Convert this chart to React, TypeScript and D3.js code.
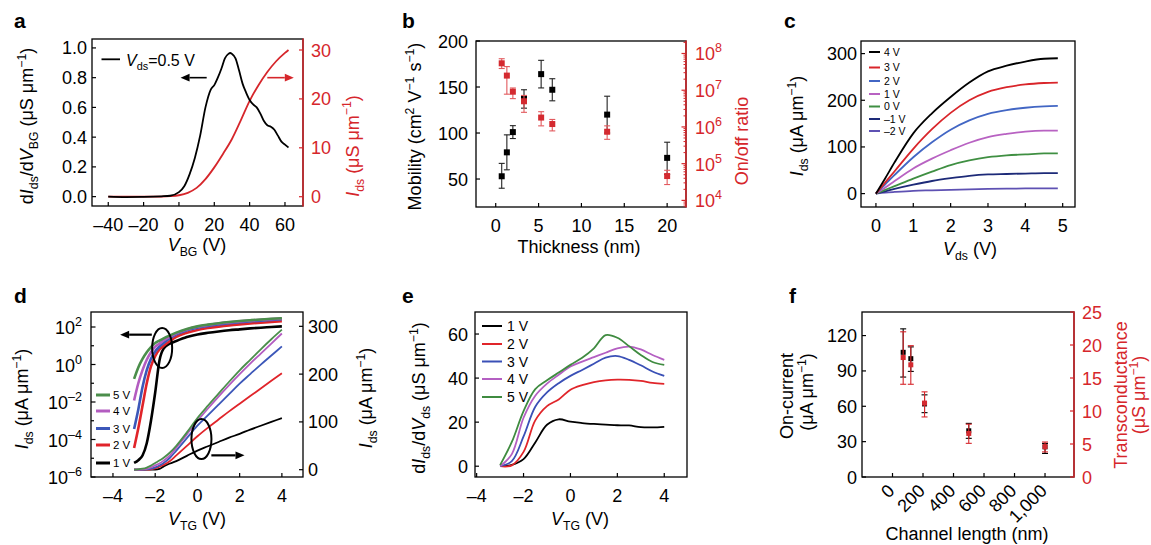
import React from 'react';
import * as d3 from 'd3';

const FONT = '"Liberation Sans", Arial, Helvetica, sans-serif';
const RED = '#d6262b';

// ---- panel a: Vds = 0.5 V transfer curve
const aDerivVbg = [-40, -30, -20, -10, -5, 0, 3, 6, 9, 12, 15, 18, 20, 22, 24, 26, 28, 29, 30, 32, 34, 36, 38, 40, 42, 44, 46, 48, 50, 52, 54, 56, 58, 60, 62];
const aDeriv = [0, -0.003, -0.002, 0.002, 0.006, 0.03, 0.07, 0.15, 0.26, 0.41, 0.6, 0.72, 0.75, 0.8, 0.86, 0.93, 0.96, 0.966, 0.96, 0.93, 0.85, 0.76, 0.7, 0.65, 0.62, 0.6, 0.56, 0.51, 0.48, 0.47, 0.45, 0.41, 0.37, 0.35, 0.33];
const aIdsVbg = [-40, -30, -20, -10, -5, 0, 5, 10, 15, 20, 25, 30, 35, 40, 45, 50, 55, 60, 62];
const aIds = [0, 0, 0, 0.03, 0.1, 0.3, 0.8, 1.8, 3.6, 6, 8.8, 11.8, 15.6, 19.6, 22.8, 25.5, 27.7, 29.4, 30];
const aTicksX = [-40, -20, 0, 20, 40, 60];
const aTicksY = [0, 0.2, 0.4, 0.6, 0.8, 1.0];
const aTicksYR = [0, 10, 20, 30];

// ---- panel b: thickness dependence
const bThickness = [0.7, 1.3, 2, 3.3, 5.3, 6.6, 13, 20];
const bMobility = [53, 79, 101, 137, 164, 147, 120, 73];
const bMobilityLo = [40, 60, 94, 127, 149, 135, 100, 55];
const bMobilityHi = [67, 98, 108, 147, 179, 159, 140, 90];
const bRatio = [5.4e7, 2.5e7, 9.1e6, 5.0e6, 1.8e6, 1.2e6, 7.4e5, 4.6e4];
const bRatioLo = [3.9e7, 7.8e6, 5.9e6, 2.5e6, 1.07e6, 7.8e5, 4.6e5, 2.7e4];
const bRatioHi = [7.2e7, 4.4e7, 1.15e7, 7.2e6, 2.6e6, 1.6e6, 1.07e6, 6.6e4];
const bTicksX = [0, 5, 10, 15, 20];
const bTicksY = [50, 100, 150, 200];
const bTicksExp = [4, 5, 6, 7, 8];

// ---- panel c: output curves
const cVds = [0, 0.25, 0.5, 1, 1.5, 2, 2.5, 3, 3.5, 4, 4.5, 4.87];
const cGates = ['4 V', '3 V', '2 V', '1 V', '0 V', '\u20131 V', '\u20132 V'];
const cColors = ['#000000', '#d9252a', '#4266c4', '#b862c2', '#3f8f42', '#1d2a78', '#5e51b3'];
const cIds = [
  [0, 33, 67, 129, 172, 207, 238, 262, 274, 283, 289, 290],
  [0, 24, 48, 96, 138, 173, 200, 218, 228, 234, 237, 238],
  [0, 20, 40, 78, 110, 137, 157, 171, 179, 184, 187, 188],
  [0, 13, 27, 54, 75, 93, 109, 121, 128, 133, 135, 135],
  [0, 8, 16, 32, 47, 61, 71, 78, 82, 84, 86, 86],
  [0, 5, 10, 19, 27, 33, 38, 41, 42, 43, 44, 44],
  [0, 2, 3.5, 6, 7, 8, 9, 10, 10.5, 11, 11, 11],
];
const cTicksX = [0, 1, 2, 3, 4, 5];
const cTicksY = [0, 100, 200, 300];

// ---- panel d: transfer curves, log and linear
const dVtg = [-3, -2.8, -2.6, -2.4, -2.2, -2, -1.8, -1.6, -1.3, -1, -0.5, 0, 0.5, 1, 1.5, 2, 2.5, 3, 3.5, 4];
const dBias = ['5 V', '4 V', '3 V', '2 V', '1 V'];
const dColors = ['#4b8e4b', '#b35cc0', '#3c57b9', '#e0242a', '#000000'];
const dIds = [
  [0.17, 0.7, 2, 4.5, 8.5, 14, 19, 25, 36, 50, 78, 108, 134, 159, 184, 208, 230, 252, 273, 293],
  [0.012, 0.1, 0.5, 1.8, 4.5, 9, 13, 19, 30, 46, 74, 102, 128, 153, 177, 200, 222, 243, 264, 285],
  [3.6e-4, 4e-3, 0.063, 0.5, 2, 5, 8.9, 14, 25, 40, 66, 92, 114, 136, 158, 180, 200, 220, 239, 258],
  [3.5e-5, 4e-4, 6.3e-3, 0.1, 0.8, 2.8, 6.3, 10, 18, 30, 50, 70, 88, 105, 122, 138, 154, 170, 186, 202],
  [5.6e-6, 7.9e-6, 1.4e-5, 6.3e-5, 1e-3, 3.2e-2, 1.6, 7, 13, 18, 29, 40, 49, 58, 67, 75, 84, 92, 100, 108],
];
const dTicksX = [-4, -2, 0, 2, 4];
const dTicksExp = [-6, -5, -4, -3, -2, -1, 0, 1, 2];
const dTicksYR = [0, 100, 200, 300];

// ---- panel e: output conductance
const eVtg = [-3, -2.5, -2, -1.5, -1, -0.5, 0, 0.5, 1, 1.5, 2, 2.5, 3, 3.5, 4];
const eBias = ['1 V', '2 V', '3 V', '4 V', '5 V'];
const eColors = ['#000000', '#e0252a', '#3a50b6', '#b45fc2', '#3f8b40'];
const eGds = [
  [0, 0.6, 3.2, 10.8, 18.8, 21.3, 20.2, 19.6, 19.2, 18.9, 18.6, 18.5, 17.7, 17.6, 17.9],
  [0, 0.4, 6.5, 20.8, 27.3, 30.3, 34.7, 36.8, 38.2, 39, 39.3, 39.2, 38.7, 37.8, 37.4],
  [0, 2.3, 13.5, 27, 33.5, 37.7, 41, 43.7, 46.5, 49.3, 50, 48.3, 45.8, 43, 41],
  [0, 5.5, 22, 32, 37.5, 41.5, 45.3, 47.5, 49.5, 51.5, 53.5, 54.3, 53, 50.5, 48.3],
  [0.5, 11, 25, 35, 39, 42.5, 46, 49.2, 53.5, 59.5, 58.3, 54.5, 50.5, 47.3, 46],
];
const eTicksX = [-4, -2, 0, 2, 4];
const eTicksY = [0, 20, 40, 60];

// ---- panel f: channel length scaling
const fLength = [70, 120, 210, 500, 1000];
const fOnCurrent = [105.8, 100.4, 62, 39.2, 25.6];
const fOnLo = [84.8, 89.6, 54.6, 32.8, 20];
const fOnHi = [125.7, 110.4, 69.7, 45.5, 28.5];
const fGm = [18.1, 17.0, 11.2, 6.6, 4.6];
const fGmLo = [14.05, 14.05, 9.1, 5.1, 3.8];
const fGmHi = [22.0, 19.9, 12.9, 8.0, 5.3];
const fTicksX = [0, 200, 400, 600, 800, 1000];
const fTicksY = [0, 30, 60, 90, 120];
const fTicksYR = [0, 5, 10, 15, 20, 25];

type Part = string | { t: string; i?: boolean; sub?: boolean; sup?: boolean };
type Box = { l: number; r: number; t: number; b: number };

const neg = (d: number) => (d < 0 ? '\u2013' + Math.abs(d) : String(d));

function Rich({ parts, size }: { parts: Part[]; size: number }) {
  let level = 0;
  return (
    <>
      {parts.map((p, k) => {
        const o = typeof p === 'string' ? { t: p } : p;
        const target = o.sub ? size * 0.3 : o.sup ? -size * 0.4 : 0;
        const dy = target - level;
        level = target;
        return (
          <tspan key={k} dy={dy} fontStyle={o.i ? 'italic' : undefined} fontSize={o.sub || o.sup ? size * 0.68 : undefined}>
            {o.t}
          </tspan>
        );
      })}
    </>
  );
}

function VTitle({ x, y, parts, color = '#000', size = 18 }: { x: number; y: number; parts: Part[]; color?: string; size?: number }) {
  return (
    <text transform={`translate(${x},${y}) rotate(-90)`} textAnchor="middle" fill={color} fontSize={size} style={{ whiteSpace: 'pre' }}>
      <Rich parts={parts} size={size} />
    </text>
  );
}

function HTitle({ x, y, parts, size = 18 }: { x: number; y: number; parts: Part[]; size?: number }) {
  return (
    <text x={x} y={y} textAnchor="middle" fontSize={size} style={{ whiteSpace: 'pre' }}>
      <Rich parts={parts} size={size} />
    </text>
  );
}

function Frame({ B, rightColor }: { B: Box; rightColor?: string }) {
  return (
    <g>
      <rect x={B.l} y={B.t} width={B.r - B.l} height={B.b - B.t} fill="none" stroke="#000" strokeWidth={1.3} />
      {rightColor && <line x1={B.r} x2={B.r} y1={B.t - 0.6} y2={B.b + 0.6} stroke={rightColor} strokeWidth={1.5} />}
    </g>
  );
}

function XTicks({ B, scale, ticks, fmt = neg }: { B: Box; scale: (v: number) => number; ticks: number[]; fmt?: (v: number) => string }) {
  return (
    <g>
      {ticks.map(t => (
        <g key={t}>
          <line x1={scale(t)} x2={scale(t)} y1={B.b} y2={B.b - 4} stroke="#000" strokeWidth={1.2} />
          <text x={scale(t)} y={B.b + 25} textAnchor="middle" fontSize={18}>{fmt(t)}</text>
        </g>
      ))}
    </g>
  );
}

function YTicks({ B, scale, ticks, side, gap, color = '#000', fmt = neg }: {
  B: Box; scale: (v: number) => number; ticks: number[]; side: 'l' | 'r'; gap: number; color?: string; fmt?: (v: number) => string;
}) {
  const x0 = side === 'l' ? B.l : B.r;
  const dir = side === 'l' ? 1 : -1;
  return (
    <g>
      {ticks.map(t => (
        <g key={t}>
          <line x1={x0} x2={x0 + dir * 4} y1={scale(t)} y2={scale(t)} stroke={color} strokeWidth={1.2} />
          <text x={x0 - dir * gap} y={scale(t) + 6.5} textAnchor={side === 'l' ? 'end' : 'start'} fontSize={18} fill={color}>{fmt(t)}</text>
        </g>
      ))}
    </g>
  );
}

function LogTicks({ B, scale, exps, side, gap, color = '#000', labelEvery = 1, minor = false }: {
  B: Box; scale: (v: number) => number; exps: number[]; side: 'l' | 'r'; gap: number; color?: string; labelEvery?: number; minor?: boolean;
}) {
  const x0 = side === 'l' ? B.l : B.r;
  const dir = side === 'l' ? 1 : -1;
  const lo = Math.min(...exps);
  const minors: number[] = [];
  if (minor) {
    for (let e = lo - 1; e <= Math.max(...exps); e++) for (let m = 2; m <= 9; m++) minors.push(m * Math.pow(10, e));
  }
  return (
    <g>
      {minors.map(v => {
        const yy = scale(v);
        if (yy < B.t || yy > B.b) return null;
        return <line key={'m' + v} x1={x0} x2={x0 + dir * 2.5} y1={yy} y2={yy} stroke={color} strokeWidth={1} />;
      })}
      {exps.map(e => {
        const yy = scale(Math.pow(10, e));
        const show = (e - lo) % labelEvery === 0;
        return (
          <g key={e}>
            <line x1={x0} x2={x0 + dir * (show ? 4.5 : 3)} y1={yy} y2={yy} stroke={color} strokeWidth={1.2} />
            {show && (
              <text x={x0 - dir * gap} y={yy + 7} textAnchor={side === 'l' ? 'end' : 'start'} fontSize={18} fill={color}>
                <tspan>10</tspan>
                <tspan dy={-8} fontSize={12.5}>{neg(e)}</tspan>
              </text>
            )}
          </g>
        );
      })}
    </g>
  );
}

function Arrow({ x1, y1, x2, y2, color = '#000', w = 1.6 }: { x1: number; y1: number; x2: number; y2: number; color?: string; w?: number }) {
  const a = Math.atan2(y2 - y1, x2 - x1);
  const L = 9, Hw = 3.8;
  const bx = x2 - L * Math.cos(a), by = y2 - L * Math.sin(a);
  const p = [
    [x2, y2],
    [bx + Hw * Math.sin(a), by - Hw * Math.cos(a)],
    [bx - Hw * Math.sin(a), by + Hw * Math.cos(a)],
  ];
  return (
    <g>
      <line x1={x1} y1={y1} x2={bx} y2={by} stroke={color} strokeWidth={w} />
      <polygon points={p.map(q => q.join(',')).join(' ')} fill={color} />
    </g>
  );
}

function ErrPoint({ x, y, lo, hi, color, bar, size = 6, cap = 6 }: { x: number; y: number; lo: number; hi: number; color: string; bar: string; size?: number; cap?: number }) {
  return (
    <g>
      <line x1={x} x2={x} y1={lo} y2={hi} stroke={bar} strokeWidth={1.1} />
      <line x1={x - cap / 2} x2={x + cap / 2} y1={lo} y2={lo} stroke={bar} strokeWidth={1.1} />
      <line x1={x - cap / 2} x2={x + cap / 2} y1={hi} y2={hi} stroke={bar} strokeWidth={1.1} />
      <rect x={x - size / 2} y={y - size / 2} width={size} height={size} fill={color} />
    </g>
  );
}

const PANEL_LABEL = { fontSize: 21, fontWeight: 700 } as const;
const IDS: Part[] = [{ t: 'I', i: true }, { t: 'ds', sub: true }];

function PanelA() {
  const B: Box = { l: 92, r: 303, t: 39, b: 206 };
  const x = d3.scaleLinear().domain([-49.2, 70.2]).range([B.l, B.r]);
  const y = d3.scaleLinear().domain([-0.063, 1.06]).range([B.b, B.t]);
  const yr = d3.scaleLinear().domain([-1.9, 32.25]).range([B.b, B.t]);
  const kLine = d3.line<number>().x((_, i) => x(aDerivVbg[i])).y(v => y(v)).curve(d3.curveMonotoneX);
  const rLine = d3.line<number>().x((_, i) => x(aIdsVbg[i])).y(v => yr(v)).curve(d3.curveMonotoneX);
  return (
    <g>
      <text x={14} y={28} {...PANEL_LABEL}>a</text>
      <Frame B={B} rightColor={RED} />
      <path d={rLine(aIds) || ''} fill="none" stroke={RED} strokeWidth={1.8} />
      <path d={kLine(aDeriv) || ''} fill="none" stroke="#000" strokeWidth={1.8} />
      <XTicks B={B} scale={x} ticks={aTicksX} />
      <YTicks B={B} scale={y} ticks={aTicksY} side="l" gap={5} fmt={d => d.toFixed(1)} />
      <YTicks B={B} scale={yr} ticks={aTicksYR} side="r" gap={8} color={RED} />
      <line x1={101.5} x2={120} y1={59.3} y2={59.3} stroke="#000" strokeWidth={1.8} />
      <text x={126} y={65.5} fontSize={16} style={{ whiteSpace: 'pre' }}>
        <Rich parts={[{ t: 'V', i: true }, { t: 'ds', sub: true }, '=0.5 V']} size={16} />
      </text>
      <Arrow x1={x(15.7)} y1={y(0.8)} x2={x(0.9)} y2={y(0.8)} />
      <Arrow x1={x(50)} y1={y(0.8)} x2={x(65)} y2={y(0.8)} color={RED} />
      <VTitle x={33} y={126} parts={['d', ...IDS, '/d', { t: 'V', i: true }, { t: 'BG', sub: true }, ' (\u03bcS \u03bcm', { t: '\u22121', sup: true }, ')']} />
      <VTitle x={358.5} y={146} color={RED} parts={[...IDS, ' (\u03bcS \u03bcm', { t: '\u22121', sup: true }, ')']} />
      <HTitle x={197} y={251} parts={[{ t: 'V', i: true }, { t: 'BG', sub: true }, ' (V)']} />
    </g>
  );
}

function PanelB() {
  const B: Box = { l: 476, r: 686, t: 41, b: 207 };
  const x = d3.scaleLinear().domain([-2.3, 22.2]).range([B.l, B.r]);
  const y = d3.scaleLinear().domain([19.6, 200]).range([B.b, B.t]);
  const yr = d3.scaleLog().domain([Math.pow(10, 3.82), Math.pow(10, 8.34)]).range([B.b, B.t]);
  return (
    <g>
      <text x={402} y={28} {...PANEL_LABEL}>b</text>
      <Frame B={B} rightColor={RED} />
      <XTicks B={B} scale={x} ticks={bTicksX} />
      <YTicks B={B} scale={y} ticks={bTicksY} side="l" gap={8} />
      <LogTicks B={B} scale={yr} exps={bTicksExp} side="r" gap={9} color={RED} minor />
      {bThickness.map((t, i) => (
        <ErrPoint key={'k' + i} x={x(t)} y={y(bMobility[i])} lo={y(bMobilityLo[i])} hi={y(bMobilityHi[i])} color="#000" bar="#222" />
      ))}
      {bThickness.map((t, i) => (
        <ErrPoint key={'r' + i} x={x(t)} y={yr(bRatio[i])} lo={yr(bRatioLo[i])} hi={yr(bRatioHi[i])} color="#d42a30" bar="#e25a5e" />
      ))}
      <VTitle x={421} y={126.5} parts={['Mobility (cm', { t: '2', sup: true }, ' V', { t: '\u22121', sup: true }, ' s', { t: '\u22121', sup: true }, ')']} />
      <VTitle x={748} y={141} color={RED} parts={['On/off ratio']} />
      <HTitle x={579} y={253} parts={['Thickness (nm)']} />
    </g>
  );
}

function PanelC() {
  const B: Box = { l: 861, r: 1075, t: 41, b: 207 };
  const x = d3.scaleLinear().domain([-0.4, 5.33]).range([B.l, B.r]);
  const y = d3.scaleLinear().domain([-28.7, 327]).range([B.b, B.t]);
  const line = d3.line<number>().x((_, i) => x(cVds[i])).y(v => y(v)).curve(d3.curveMonotoneX);
  const legY = [52, 67.5, 81, 94, 106.5, 119, 131];
  return (
    <g>
      <text x={784} y={28} {...PANEL_LABEL}>c</text>
      <Frame B={B} />
      {cIds.map((s, i) => (
        <path key={i} d={line(s) || ''} fill="none" stroke={cColors[i]} strokeWidth={1.8} />
      )).reverse()}
      <XTicks B={B} scale={x} ticks={cTicksX} />
      <YTicks B={B} scale={y} ticks={cTicksY} side="l" gap={4} />
      {cGates.map((g, i) => (
        <g key={g}>
          <line x1={869} x2={880} y1={legY[i]} y2={legY[i]} stroke={cColors[i]} strokeWidth={2} />
          <text x={884} y={legY[i] + 3.8} fontSize={10.5}>{g}</text>
        </g>
      ))}
      <VTitle x={803} y={126} parts={[...IDS, ' (\u03bcA \u03bcm', { t: '\u22121', sup: true }, ')']} />
      <HTitle x={970} y={255} parts={[{ t: 'V', i: true }, { t: 'ds', sub: true }, ' (V)']} />
    </g>
  );
}

function PanelD() {
  const B: Box = { l: 91, r: 303, t: 312, b: 477 };
  const x = d3.scaleLinear().domain([-5.04, 5.0]).range([B.l, B.r]);
  const yl = d3.scaleLog().domain([1e-6, Math.pow(10, 2.8)]).range([B.b, B.t]);
  const yr = d3.scaleLinear().domain([-15.3, 330]).range([B.b, B.t]);
  const logLine = d3.line<number>().x((_, i) => x(dVtg[i])).y(v => yl(v)).curve(d3.curveMonotoneX);
  const linLine = d3.line<number>().x((_, i) => x(dVtg[i])).y(v => yr(v)).curve(d3.curveMonotoneX);
  const legY = [395, 411, 428.5, 445, 463];
  return (
    <g>
      <text x={14} y={303} {...PANEL_LABEL}>d</text>
      <Frame B={B} />
      {dIds.map((s, i) => (
        <path key={'lin' + i} d={linLine(s) || ''} fill="none" stroke={dColors[i]} strokeWidth={1.8} />
      )).reverse()}
      {dIds.map((s, i) => (
        <path key={'log' + i} d={logLine(s) || ''} fill="none" stroke={dColors[i]} strokeWidth={2.6} />
      )).reverse()}
      <XTicks B={B} scale={x} ticks={dTicksX} />
      <LogTicks B={B} scale={yl} exps={dTicksExp} side="l" gap={9} labelEvery={2} />
      <YTicks B={B} scale={yr} ticks={dTicksYR} side="r" gap={5} />
      <ellipse cx={x(-1.67)} cy={yl(7.6)} rx={10} ry={20} fill="none" stroke="#000" strokeWidth={2} />
      <Arrow x1={x(-2.16)} y1={yl(39)} x2={x(-3.66)} y2={yl(39)} w={2.2} />
      <ellipse cx={x(0.19)} cy={yr(64)} rx={10} ry={20} fill="none" stroke="#000" strokeWidth={2} />
      <Arrow x1={x(0.66)} y1={yr(30)} x2={x(2.23)} y2={yr(30)} w={2.2} />
      {dBias.map((b, i) => (
        <g key={b}>
          <line x1={96} x2={110} y1={legY[i]} y2={legY[i]} stroke={dColors[i]} strokeWidth={3} />
          <text x={113} y={legY[i] + 4} fontSize={11.5}>{b}</text>
        </g>
      ))}
      <VTitle x={28} y={399} parts={[...IDS, ' (\u03bcA \u03bcm', { t: '\u22121', sup: true }, ')']} />
      <VTitle x={372} y={398} parts={[...IDS, ' (\u03bcA \u03bcm', { t: '\u22121', sup: true }, ')']} />
      <HTitle x={197} y={525} parts={[{ t: 'V', i: true }, { t: 'TG', sub: true }, ' (V)']} />
    </g>
  );
}

function PanelE() {
  const B: Box = { l: 475, r: 687, t: 312, b: 477 };
  const x = d3.scaleLinear().domain([-4.07, 4.97]).range([B.l, B.r]);
  const y = d3.scaleLinear().domain([-4.9, 70]).range([B.b, B.t]);
  const line = d3.line<number>().x((_, i) => x(eVtg[i])).y(v => y(v)).curve(d3.curveCatmullRom.alpha(0.5));
  const legY = [326, 344, 361.5, 379, 397];
  return (
    <g>
      <text x={402} y={303} {...PANEL_LABEL}>e</text>
      <Frame B={B} />
      {eGds.map((s, i) => (
        <path key={i} d={line(s) || ''} fill="none" stroke={eColors[i]} strokeWidth={1.8} />
      ))}
      <XTicks B={B} scale={x} ticks={eTicksX} />
      <YTicks B={B} scale={y} ticks={eTicksY} side="l" gap={7} />
      {eBias.map((b, i) => (
        <g key={b}>
          <line x1={482} x2={502} y1={legY[i]} y2={legY[i]} stroke={eColors[i]} strokeWidth={2} />
          <text x={507} y={legY[i] + 5} fontSize={14}>{b}</text>
        </g>
      ))}
      <VTitle x={425} y={398} parts={['d', ...IDS, '/d', { t: 'V', i: true }, { t: 'ds', sub: true }, ' (\u03bcS \u03bcm', { t: '\u22121', sup: true }, ')']} />
      <HTitle x={580} y={525} parts={[{ t: 'V', i: true }, { t: 'TG', sub: true }, ' (V)']} />
    </g>
  );
}

function PanelF() {
  const B: Box = { l: 862, r: 1074, t: 312, b: 477 };
  const x = d3.scaleLinear().domain([-200, 1190]).range([B.l, B.r]);
  const y = d3.scaleLinear().domain([0, 140]).range([B.b, B.t]);
  const yr = d3.scaleLinear().domain([0, 25]).range([B.b, B.t]);
  const fmtK = d3.format(',');
  return (
    <g>
      <text x={789} y={303} {...PANEL_LABEL}>f</text>
      <Frame B={B} rightColor={RED} />
      {fTicksX.map(t => (
        <g key={t}>
          <line x1={x(t)} x2={x(t)} y1={B.b} y2={B.b - 4} stroke="#000" strokeWidth={1.2} />
          <text transform={`translate(${x(t) + 3},${B.b + 15}) rotate(-45)`} textAnchor="end" fontSize={18}>{fmtK(t)}</text>
        </g>
      ))}
      <YTicks B={B} scale={y} ticks={fTicksY} side="l" gap={5} />
      <YTicks B={B} scale={yr} ticks={fTicksYR} side="r" gap={8} color={RED} />
      {fLength.map((l, i) => (
        <ErrPoint key={'k' + i} x={x(l)} y={y(fOnCurrent[i])} lo={y(fOnLo[i])} hi={y(fOnHi[i])} color="#000" bar="#000" size={5} cap={6} />
      ))}
      {fLength.map((l, i) => (
        <ErrPoint key={'r' + i} x={x(l)} y={yr(fGm[i])} lo={yr(fGmLo[i])} hi={yr(fGmHi[i])} color="#d42a30" bar={RED} size={5} cap={6} />
      ))}
      <VTitle x={793} y={396} parts={['On-current']} />
      <VTitle x={813} y={392} parts={['(\u03bcA \u03bcm', { t: '\u22121', sup: true }, ')']} />
      <VTitle x={1127} y={395} color={RED} parts={['Transconductance']} />
      <VTitle x={1145} y={395} color={RED} parts={['(\u03bcS \u03bcm', { t: '\u22121', sup: true }, ')']} />
      <HTitle x={967} y={540} parts={['Channel length (nm)']} />
    </g>
  );
}

export default function App() {
  return (
    <svg width={1151} height={545} style={{ position: 'absolute', left: 0, top: 0, background: '#fff' }} fontFamily={FONT}>
      <PanelA />
      <PanelB />
      <PanelC />
      <PanelD />
      <PanelE />
      <PanelF />
    </svg>
  );
}
